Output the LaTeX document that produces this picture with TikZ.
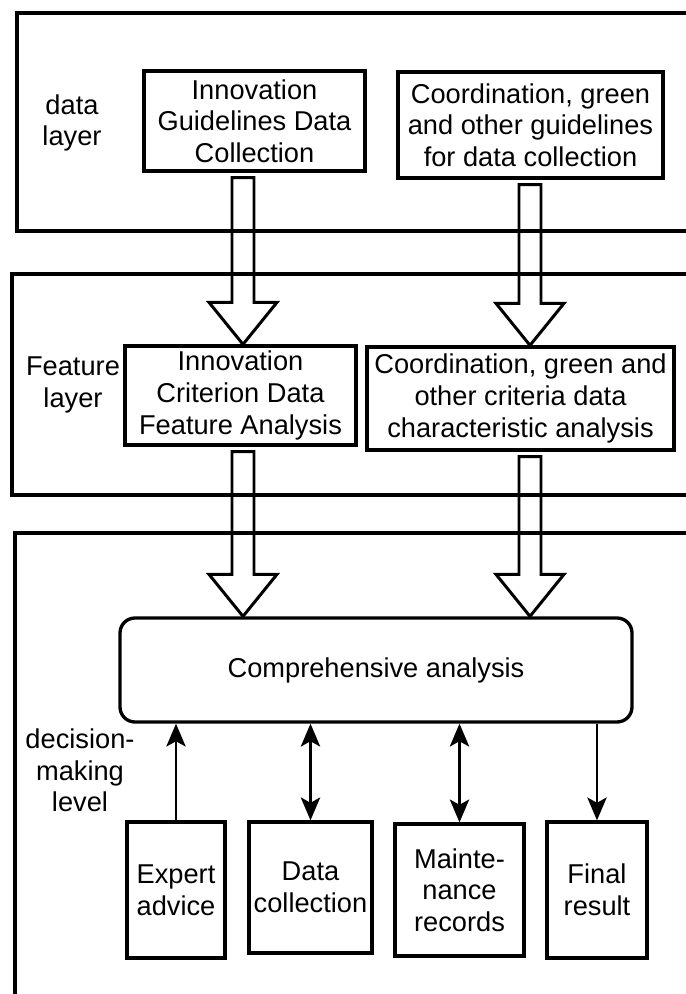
\documentclass[tikz,border=0pt]{standalone}
\usepackage{fontspec}
\setmainfont{Liberation Sans}
\usepackage{tikz}
\usetikzlibrary{positioning,calc,arrows.meta}

\begin{document}
\begin{tikzpicture}[
    >={Stealth[length=13pt,width=11pt,inset=3pt]},
    box/.style={draw, line width=1.9pt, align=center, inner sep=1pt,
        font=\fontsize{15.5}{18}\selectfont},
    layer/.style={draw, line width=1.8pt},
    hollow/.style={draw, line width=1.7pt, line join=miter},
    link/.style={line width=1.4pt},
    tag/.style={align=center, font=\fontsize{15.5}{18}\selectfont}]

        \useasboundingbox (0,0) rectangle (13.72,-19.88);

        % layers
        \path[layer] (0.34,-0.26) rectangle (14.2,-4.62);
        \path[layer] (0.24,-5.48) rectangle (14.2,-9.90);
        \path[layer] (0.30,-10.66) rectangle (14.2,-20.3);

        \node[tag] (ldata) at (1.44,-2.46) {data\\layer};
        \node[tag] (lfeat) at (1.46,-7.70) {Feature\\layer};
        \node[tag] (ldec) at (1.60,-15.41) {decision-\\making\\level};

        % data layer
        \node[box, minimum width=4.42cm, minimum height=2.0cm] (data1) at (5.09,-2.42)
            {Innovation\\Guidelines Data\\Collection};
        \node[box, minimum width=5.30cm, minimum height=2.12cm] (data2) at (10.61,-2.50)
            {Coordination, green\\and other guidelines\\for data collection};

        % feature layer
        \node[box, minimum width=4.62cm, minimum height=1.98cm] (feat1) at (4.81,-7.91)
            {Innovation\\Criterion Data\\Feature Analysis};
        \node[box, minimum width=6.14cm, minimum height=2.06cm] (feat2) at (10.41,-7.97)
            {Coordination, green and\\other criteria data\\characteristic analysis};

        % decision-making level
        \node[box, rounded corners=0.3cm, minimum width=10.24cm, minimum height=2.08cm] (comp) at (7.52,-13.40)
            {Comprehensive analysis};

        \node[box, minimum width=1.96cm, minimum height=2.72cm] (expert) at (3.52,-17.80) {Expert\\advice};
        \node[box, minimum width=2.46cm, minimum height=2.62cm] (datacol) at (6.21,-17.75) {Data\\collection};
        \node[box, minimum width=2.58cm, minimum height=2.64cm] (maint) at (9.19,-17.80) {Mainte-\\nance\\records};
        \node[box, minimum width=2.00cm, minimum height=2.72cm] (final) at (11.94,-17.80) {Final\\result};

        \coordinate (colA) at (4.86,0);
        \coordinate (colB) at (10.60,0);

        % hollow block arrows
        \foreach \s/\e/\c in {data1/feat1/colA, data2/feat2/colB, feat1/comp/colA, feat2/comp/colB} {
            \coordinate (top) at (\c |- \s.south);
            \coordinate (tip) at (\c |- \e.north);
            \path[hollow] ($(top)+(-0.22,-0.1)$) -- ($(tip)+(-0.22,0.84)$) -- ++(-0.46,0) -- (tip)
                -- ($(tip)+(0.68,0.84)$) -- ++(-0.46,0) -- ($(top)+(0.22,-0.1)$) -- cycle;
        }

        % thin arrows
        \draw[link, <-] (expert.north |- comp.south) -- (expert.north);
        \draw[link, <->] (datacol.north |- comp.south) -- (datacol.north);
        \draw[link, <->] (maint.north |- comp.south) -- (maint.north);
        \draw[link, ->] (final.north |- comp.south) -- (final.north);

    \end{tikzpicture}
\end{document}
